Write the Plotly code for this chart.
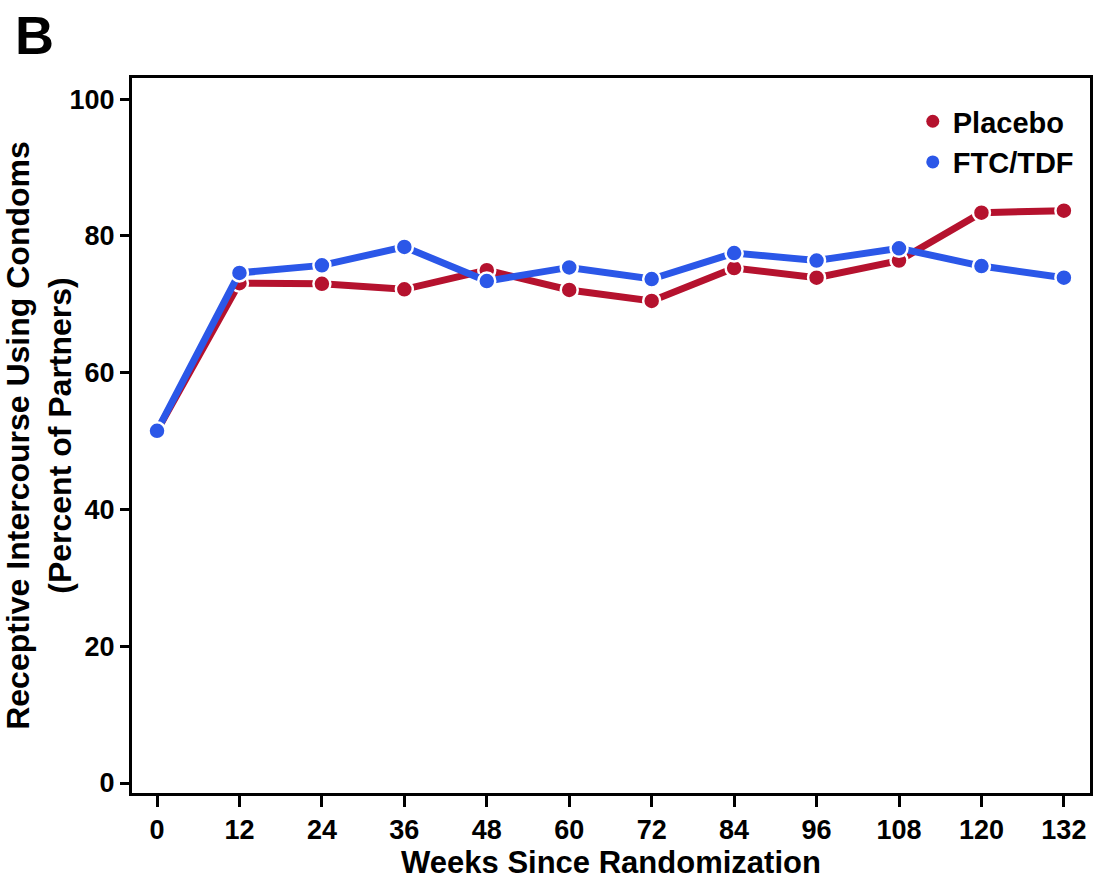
import plotly.graph_objects as go

weeks = [0, 12, 24, 36, 48, 60, 72, 84, 96, 108, 120, 132]
placebo = [51.5, 73.1, 73.0, 72.2, 75.0, 72.1, 70.5, 75.3, 73.9, 76.4, 83.4, 83.7]
ftc_tdf = [51.5, 74.6, 75.7, 78.4, 73.4, 75.4, 73.7, 77.5, 76.4, 78.2, 75.6, 73.9]
y_ticks = [0, 20, 40, 60, 80, 100]

RED = "#B5122E"
BLUE = "#2B57E8"
FONT = "Liberation Sans, Arial"

fig = go.Figure()
for name, vals, col in [("Placebo", placebo, RED), ("FTC/TDF", ftc_tdf, BLUE)]:
    fig.add_trace(go.Scatter(
        x=weeks, y=vals, mode="lines+markers", name=name, showlegend=False,
        line=dict(color=col, width=7),
        marker=dict(color=col, size=17, line=dict(color="white", width=2.5)),
    ))
for name, col in [("Placebo", RED), ("FTC/TDF", BLUE)]:
    fig.add_trace(go.Scatter(
        x=[None], y=[None], mode="markers", name=name,
        marker=dict(color=col, size=13),
    ))

fig.update_layout(
    width=1093, height=892,
    margin=dict(l=132, r=3, t=78, b=99, autoexpand=False),
    paper_bgcolor="white", plot_bgcolor="white",
    font=dict(family=FONT, color="black"),
    legend=dict(
        x=0.815, y=0.975, xanchor="left", yanchor="top",
        font=dict(size=29, family=FONT, weight="bold"),
        bgcolor="rgba(0,0,0,0)", itemwidth=30, tracegroupgap=0,
    ),
    annotations=[dict(
        text="<b>B</b>", xref="paper", yref="paper", x=-0.124, y=1.06,
        xanchor="left", yanchor="middle", showarrow=False,
        font=dict(size=54, family=FONT, color="black"),
    )],
)
fig.update_xaxes(
    range=[-3.64, 135.8], tickvals=weeks, ticktext=[str(w) for w in weeks],
    showline=True, linecolor="black", linewidth=3, mirror=True,
    ticks="outside", ticklen=11, tickwidth=3, tickcolor="black",
    showgrid=False, zeroline=False, automargin=False,
    tickfont=dict(size=27, family=FONT, weight="bold"),
    title=dict(text="<b>Weeks Since Randomization</b>", font=dict(size=31, family=FONT), standoff=6),
)
fig.update_yaxes(
    range=[-1.46, 103.1], tickvals=y_ticks, ticktext=[str(v) for v in y_ticks],
    showline=True, linecolor="black", linewidth=3, mirror=True,
    ticks="outside", ticklen=9, tickwidth=3, tickcolor="black",
    showgrid=False, zeroline=False, automargin=False,
    tickfont=dict(size=27, family=FONT, weight="bold"),
    title=dict(text="<b>Receptive Intercourse Using Condoms<br>(Percent of Partners)</b>",
               font=dict(size=32, family=FONT), standoff=6),
)

fig.write_html("out.html")
